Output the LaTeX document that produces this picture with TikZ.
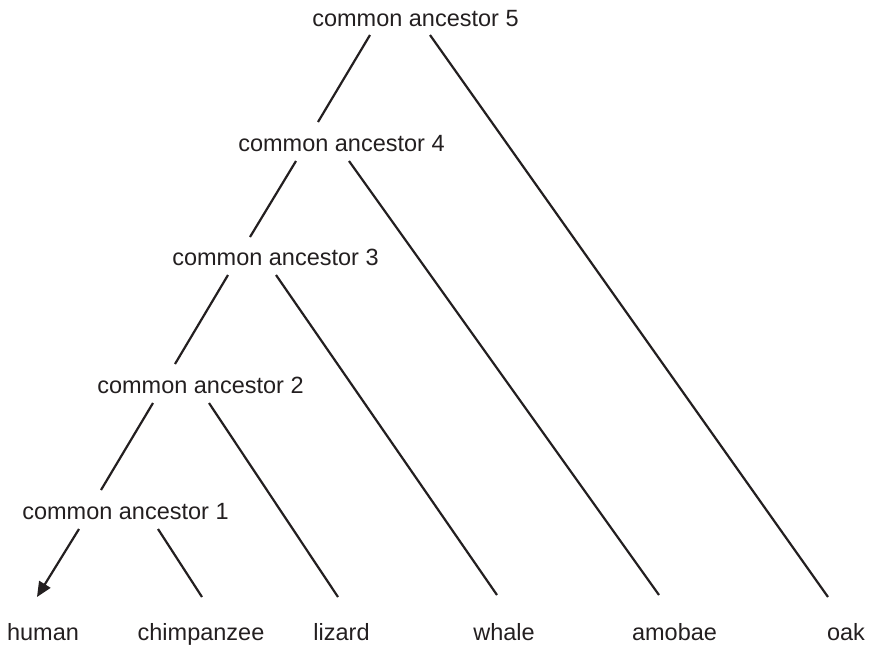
\documentclass[tikz,border=0pt]{standalone}
\usepackage{fontspec}
\setmainfont{Liberation Sans}
\usetikzlibrary{arrows.meta}
\definecolor{ink}{HTML}{231F20}
\begin{document}
\begin{tikzpicture}[x=1pt,y=-1pt,
  label/.style={anchor=base,inner sep=0pt,text=ink,font=\fontsize{23.5}{28}\selectfont},
  branch/.style={draw=ink,line width=2.2pt},
  tipped/.style={branch,-{Triangle[length=15pt,width=13pt]}}]
\useasboundingbox (0,0) rectangle (873,649);

% ancestors
\node[label] (ca5) at (415.5,26)  {common ancestor 5};
\node[label] (ca4) at (341.5,151) {common ancestor 4};
\node[label] (ca3) at (275.5,265) {common ancestor 3};
\node[label] (ca2) at (200.5,393) {common ancestor 2};
\node[label] (ca1) at (125.5,519) {common ancestor 1};

% species
\node[label] (human)  at (43,640)    {human};
\node[label] (chimp)  at (201,640)   {chimpanzee};
\node[label] (lizard) at (341.5,640) {lizard};
\node[label] (whale)  at (504,640)   {whale};
\node[label] (amobae) at (674.5,640) {amobae};
\node[label] (oak)    at (846,640)   {oak};

% branches
\draw[branch] ([shift={(-45.5,9)}]ca5.base) -- ([shift={(-23.5,-29)}]ca4.base);
\draw[branch] ([shift={(14.5,9)}]ca5.base)  -- ([shift={(-18,-43)}]oak.base);
\draw[branch] ([shift={(-45.5,10)}]ca4.base) -- ([shift={(-25.5,-28)}]ca3.base);
\draw[branch] ([shift={(7.5,10)}]ca4.base)  -- ([shift={(-15.5,-45)}]amobae.base);
\draw[branch] ([shift={(-47.5,10)}]ca3.base) -- ([shift={(-25.5,-29)}]ca2.base);
\draw[branch] ([shift={(0.5,10)}]ca3.base)  -- ([shift={(-7,-45)}]whale.base);
\draw[branch] ([shift={(-47.5,10)}]ca2.base) -- ([shift={(-24.5,-29)}]ca1.base);
\draw[branch] ([shift={(8.5,10)}]ca2.base)  -- ([shift={(-3.5,-43)}]lizard.base);
\draw[tipped] ([shift={(-46.5,10)}]ca1.base) -- ([shift={(-6,-43)}]human.base);
\draw[branch] ([shift={(32.5,10)}]ca1.base) -- ([shift={(1,-43)}]chimp.base);
\end{tikzpicture}
\end{document}
